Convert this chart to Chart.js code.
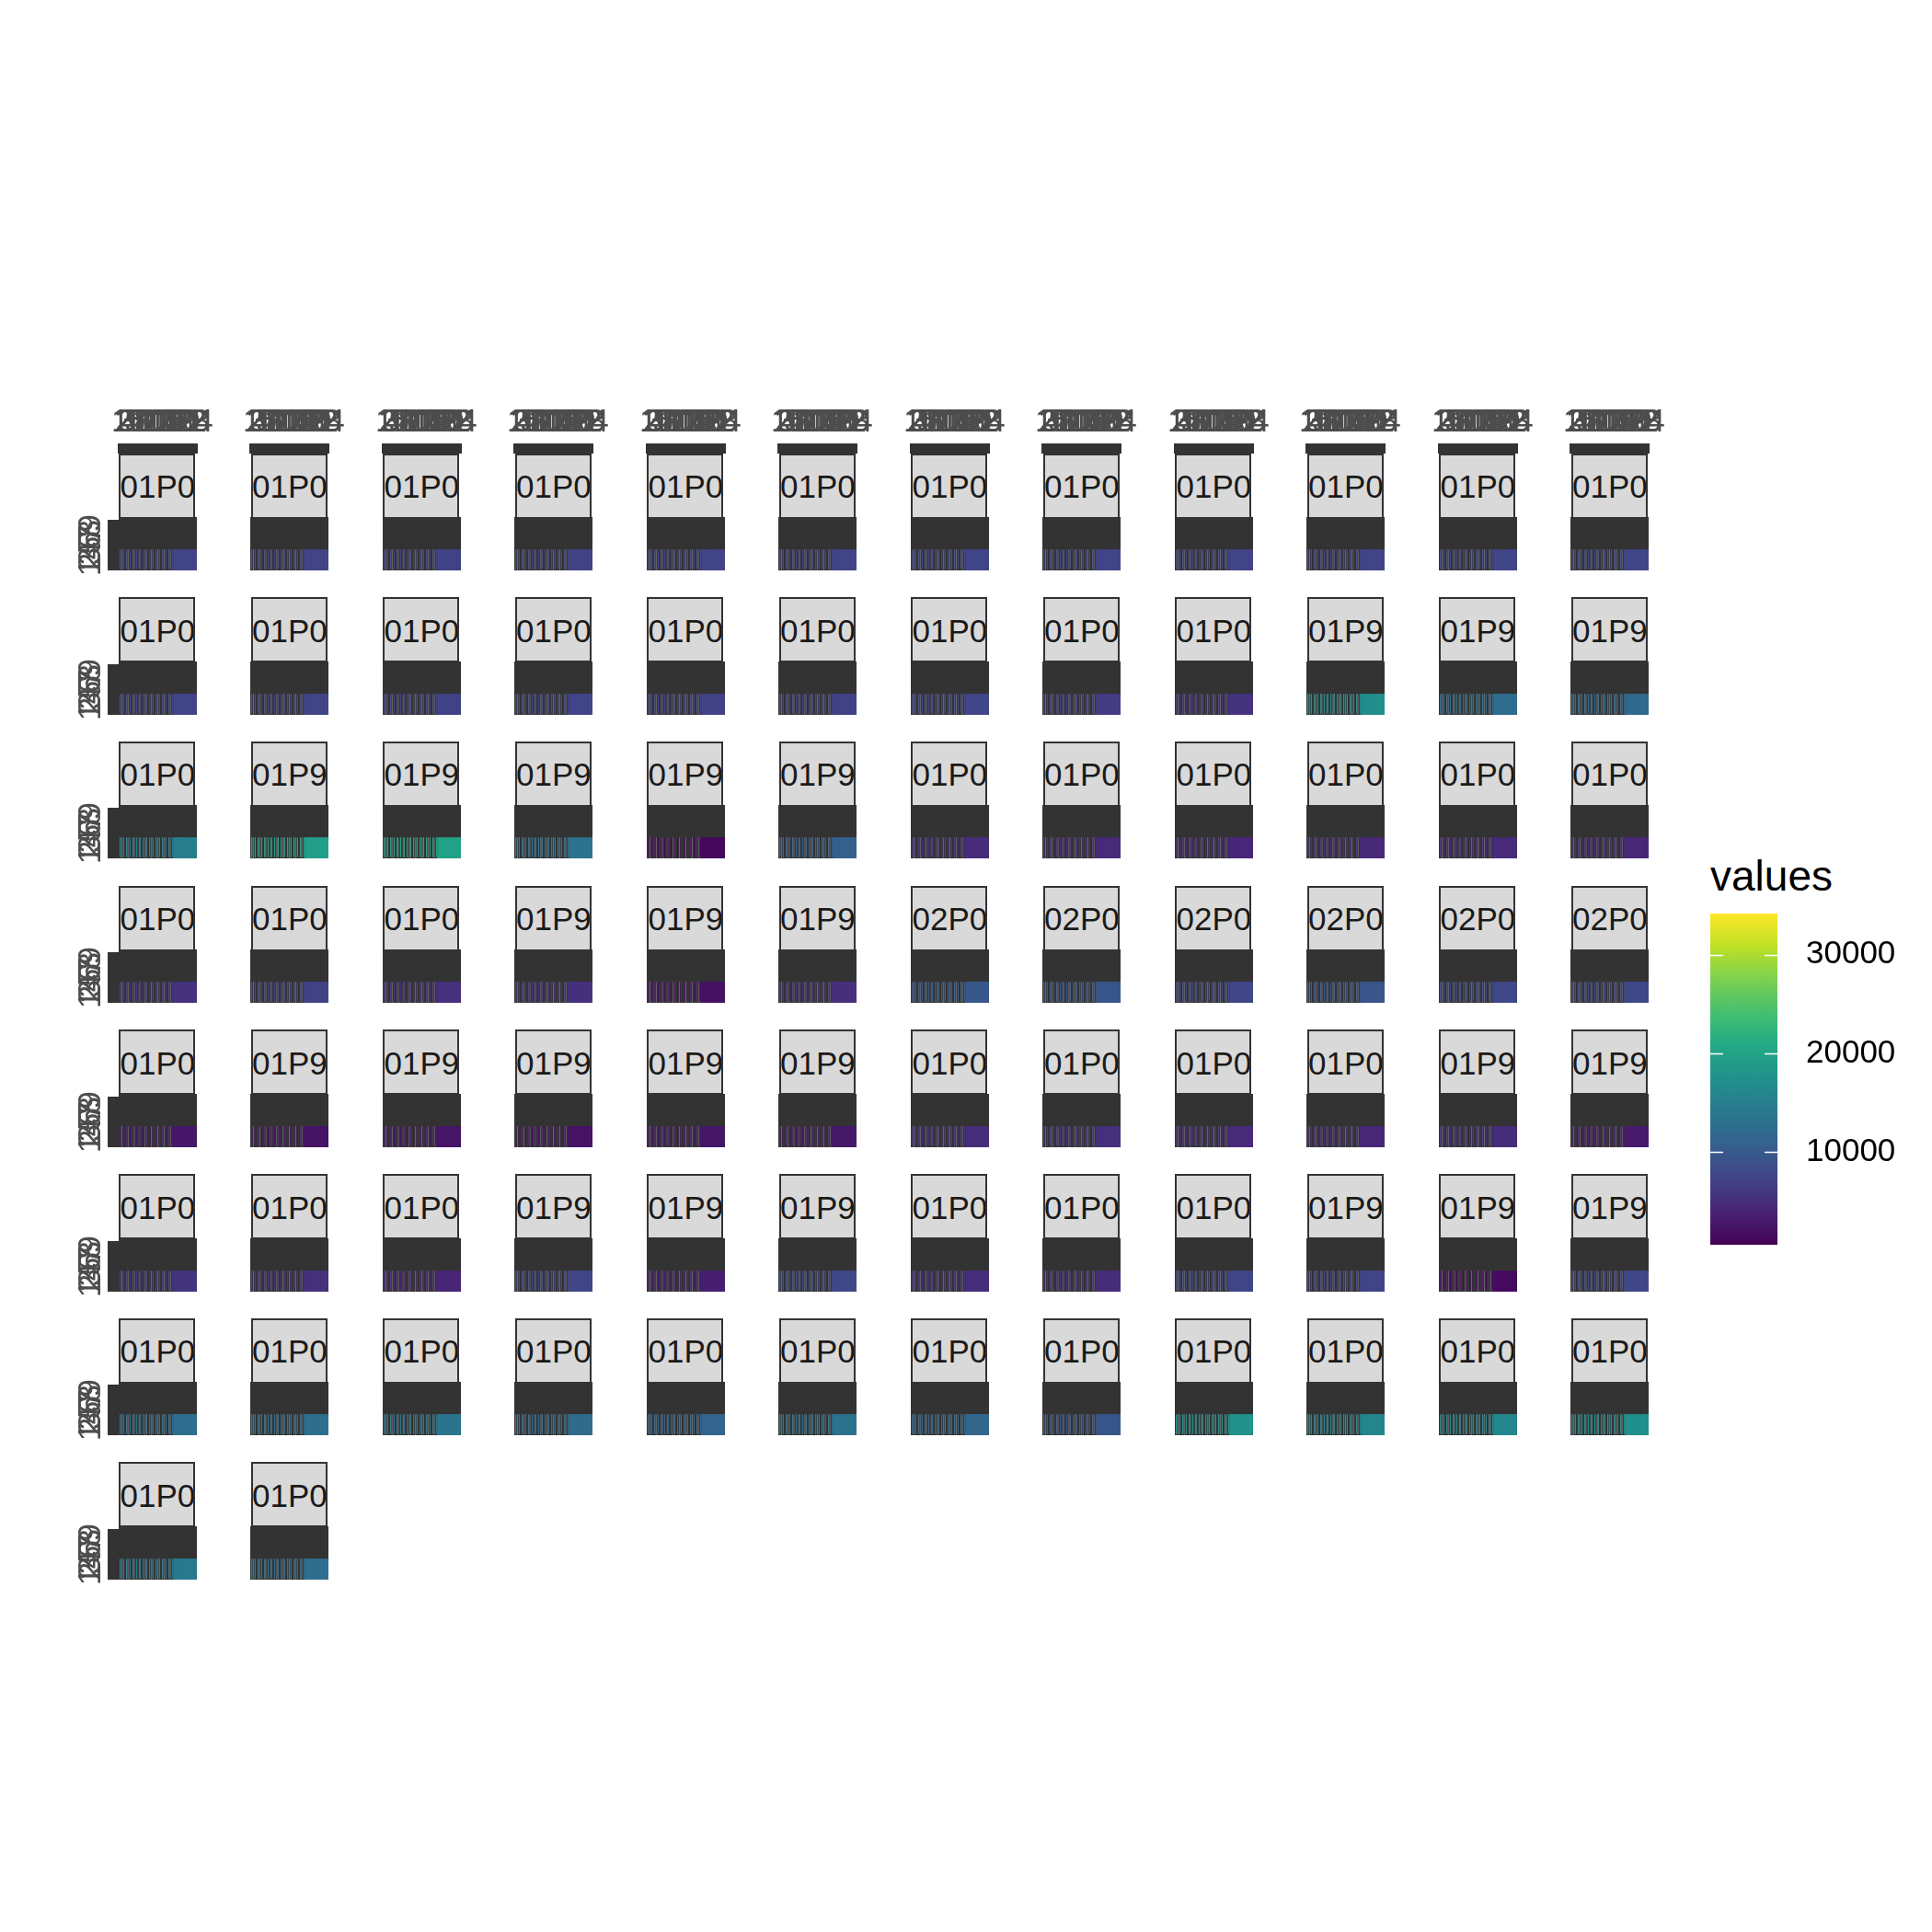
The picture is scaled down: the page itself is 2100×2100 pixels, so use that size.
<!DOCTYPE html>
<html><head><meta charset="utf-8">
<script src="https://cdn.jsdelivr.net/npm/chart.js@4.4.1/dist/chart.umd.min.js"></script>
<style>
html,body{margin:0;padding:0;background:#fff;}
#root{position:relative;width:2100px;height:2100px;overflow:hidden;background:#fff;font-family:"Liberation Sans",Arial,sans-serif;}
#root canvas{position:absolute;}
.strip{position:absolute;box-sizing:border-box;background:#d9d9d9;border:2px solid #333333;display:flex;align-items:center;justify-content:center;overflow:hidden;font-size:35px;color:#1a1a1a;white-space:nowrap;padding-top:2px;}
.ltitle{position:absolute;font-size:46px;line-height:46px;color:#000;white-space:nowrap;}
</style>
</head><body>
<div id="root"></div>
<script>
// ---------- data ----------
const facetLabels = [
 "T01P01","T01P02","T01P03","T01P04","T01P05","T01P06","T01P07","T01P08","T01P09","T01P00","T01P01","T01P02",
 "T01P03","T01P04","T01P05","T01P06","T01P07","T01P08","T01P09","T01P00","T01P01","T01P91","T01P92","T01P93",
 "T01P02","T01P94","T01P95","T01P96","T01P97","T01P98","T01P03","T01P04","T01P05","T01P06","T01P07","T01P08",
 "T01P09","T01P00","T01P01","T01P91","T01P92","T01P93","T02P01","T02P02","T02P03","T02P04","T02P05","T02P06",
 "T01P02","T01P94","T01P95","T01P96","T01P97","T01P98","T01P03","T01P04","T01P05","T01P06","T01P99","T01P90",
 "T01P07","T01P08","T01P09","T01P91","T01P92","T01P93","T01P00","T01P01","T01P02","T01P94","T01P95","T01P96",
 "T01P03","T01P04","T01P05","T01P06","T01P07","T01P08","T01P09","T01P00","T01P01","T01P02","T01P03","T01P04",
 "T01P05","T01P06"
];
const facetValues = [
 7400, 7300, 7100, 7200, 7400, 7300, 7500, 7500, 7300, 7400, 7500, 7600,
 7300, 7400, 7100, 7300, 7200, 7100, 7600, 6500, 5600, 17000, 12400, 12000,
 14800, 19500, 19800, 13200, 1400, 10800, 4800, 4600, 4300, 4500, 4700, 4400,
 5600, 7100, 5300, 5200, 2200, 5100, 9800, 9600, 7600, 9500, 7800, 8000,
 2700, 2400, 2500, 2300, 2600, 2800, 5000, 5300, 4700, 4400, 4900, 3000,
 5700, 5300, 4200, 7600, 3500, 7900, 5000, 4900, 7500, 7300, 1600, 7700,
 12600, 12800, 13500, 12300, 11400, 13300, 11600, 9600, 17500, 15800, 16000, 17300,
 14000, 12700
];
const hourLabels = ["1","2","3","4","5","6","7","8","9","10","11","12","13","14","15","16","17","18","19","20","21","22","23","24"];
const rowLabels = ["1","2","3","4","5","6","7","8","9"];
const legendTicks = [10000, 20000, 30000];
const valueRange = [630, 34160];
const legendTitle = "values";
const viridisStops = ["#440154","#482475","#414487","#355f8d","#2a788e","#21918c","#22a884","#44bf70","#7ad151","#bddf26","#fde725"];

// ---------- helpers ----------
function hexToRgb(h){return [parseInt(h.slice(1,3),16),parseInt(h.slice(3,5),16),parseInt(h.slice(5,7),16)];}
function viridis(v){
  let t=(v-valueRange[0])/(valueRange[1]-valueRange[0]);
  t=Math.max(0,Math.min(1,t));
  const n=viridisStops.length-1, p=t*n, i=Math.min(n-1,Math.floor(p)), f=p-i;
  const a=hexToRgb(viridisStops[i]), b=hexToRgb(viridisStops[i+1]);
  const c=a.map((x,k)=>Math.round(x+(b[k]-x)*f));
  return `rgb(${c[0]},${c[1]},${c[2]})`;
}

// ---------- layout ----------
const FONT = '"Liberation Sans", Arial, sans-serif';
const NCOL=12, COLX0=129.5, COLSTEP=143.5, ROWY0=493, ROWSTEP=156.7;
const STRIPW=83, STRIPH=71, BODYW=85, TOTALH=127;
const AXW=60, AXH=56, PADR=24, PADB=10;
const PXU=11.4, YMAX=TOTALH/PXU, SPLIT=2.1, BODYTOP=57/PXU, ROWA=0.3, ROWB=4.5;
const SQUARE_FROM=17;
const root=document.getElementById('root');
Chart.defaults.font.family=FONT;

facetLabels.forEach((lab,i)=>{
  const r=Math.floor(i/NCOL), c=i%NCOL;
  const sx=COLX0+c*COLSTEP, sy=ROWY0+r*ROWSTEP;
  const top=(r===0), left=(c===0);
  const col=viridis(facetValues[i]);
  const cv=document.createElement('canvas');
  const W=AXW+BODYW+PADR, H=AXH+TOTALH+PADB;
  cv.width=W; cv.height=H;
  cv.style.left=(sx-1-AXW)+'px'; cv.style.top=(sy-AXH)+'px';
  cv.style.width=W+'px'; cv.style.height=H+'px';
  root.appendChild(cv);
  new Chart(cv,{
    type:'bar',
    data:{labels:hourLabels,datasets:[
      {data:hourLabels.map(()=>[SPLIT,BODYTOP]),backgroundColor:'#333333',borderWidth:0,inflateAmount:1,grouped:false,barPercentage:1,categoryPercentage:1},
      {data:hourLabels.map(()=>[0,SPLIT]),grouped:false,barPercentage:1,categoryPercentage:1,borderSkipped:false,
       backgroundColor:col,
       borderColor:(ctx)=>ctx.dataIndex<SQUARE_FROM?'#333333':col,
       borderWidth:(ctx)=>ctx.dataIndex<SQUARE_FROM?1.35:0,
       inflateAmount:(ctx)=>ctx.dataIndex<SQUARE_FROM?0.2:1},
      {data:hourLabels.map((h,k)=>k>=SQUARE_FROM?[0,0.18]:null),backgroundColor:'#333333',borderWidth:0,inflateAmount:1,grouped:false,barPercentage:1,categoryPercentage:1}
    ]},
    options:{
      responsive:false,animation:false,events:[],devicePixelRatio:1,
      layout:{padding:{left:0,top:0,right:PADR,bottom:PADB}},
      plugins:{legend:{display:false},tooltip:{enabled:false},title:{display:false}},
      scales:{
        x:{type:'category',position:'top',offset:true,
           grid:{display:top,offset:false,drawOnChartArea:false,tickLength:11,tickWidth:5,tickColor:'#333333'},
           border:{display:false},
           ticks:{display:top,autoSkip:false,maxRotation:0,minRotation:0,padding:2,color:'#4d4d4d',font:{size:35,family:FONT}},
           afterFit:(s)=>{s.height=AXH;s.paddingLeft=0;s.paddingRight=0;}},
        y:{type:'linear',position:'left',min:0,max:YMAX,
           grid:{display:left,drawOnChartArea:false,tickLength:12,tickWidth:7,tickColor:'#333333'},
           border:{display:false},
           afterBuildTicks:(s)=>{s.ticks=rowLabels.map((l,k)=>({value:ROWA+k*(ROWB-ROWA)/(rowLabels.length-1)}));},
           ticks:{display:left,autoSkip:false,minRotation:90,maxRotation:90,crossAlign:'center',padding:8,color:'#4d4d4d',font:{size:35,family:FONT},
                  callback:(v,k)=>rowLabels[k]},
           afterFit:(s)=>{s.width=AXW;s.paddingTop=0;s.paddingBottom=0;}}
      }
    }
  });
  const st=document.createElement('div');
  st.className='strip';
  st.style.left=(sx-0.5)+'px'; st.style.top=(sy-0.5)+'px';
  st.style.width=STRIPW+'px'; st.style.height=STRIPH+'px';
  const sp=document.createElement('span'); sp.textContent=lab; st.appendChild(sp);
  root.appendChild(st);
});

// ---------- legend (colorbar) ----------
const LX=1859, LY=993, LW=73, LH=360, LAXW=150;
const lt=document.createElement('div');
lt.className='ltitle'; lt.textContent=legendTitle;
lt.style.left=LX+'px'; lt.style.top='929px';
root.appendChild(lt);
const lc=document.createElement('canvas');
lc.width=LW+LAXW; lc.height=LH;
lc.style.left=LX+'px'; lc.style.top=LY+'px';
lc.style.width=(LW+LAXW)+'px'; lc.style.height=LH+'px';
root.appendChild(lc);
new Chart(lc,{
  type:'bar',
  data:{labels:[legendTitle],datasets:[{data:[valueRange],borderWidth:0,barPercentage:1,categoryPercentage:1,
    backgroundColor:(ctx)=>{const a=ctx.chart.chartArea; if(!a) return '#21918c';
      const g=ctx.chart.ctx.createLinearGradient(0,a.bottom,0,a.top);
      viridisStops.forEach((h,k)=>g.addColorStop(k/(viridisStops.length-1),h)); return g;}}]},
  options:{
    responsive:false,animation:false,events:[],devicePixelRatio:1,
    layout:{padding:0},
    plugins:{legend:{display:false},tooltip:{enabled:false}},
    scales:{
      x:{display:false,offset:true},
      y:{position:'right',min:valueRange[0],max:valueRange[1],
         grid:{display:false},border:{display:false},
         afterBuildTicks:(s)=>{s.ticks=legendTicks.map(v=>({value:v}));},
         ticks:{padding:23,color:'#000000',font:{size:35,family:FONT},callback:(v)=>String(v)},
         afterFit:(s)=>{s.width=LAXW;s.paddingTop=0;s.paddingBottom=0;}}
    }
  },
  plugins:[{id:'cbTicks',afterDatasetsDraw(chart){
    const a=chart.chartArea, y=chart.scales.y, c=chart.ctx;
    c.save(); c.strokeStyle='#ffffff'; c.lineWidth=1.6;
    legendTicks.forEach(v=>{const py=Math.round(y.getPixelForValue(v))+0.5;
      c.beginPath(); c.moveTo(a.left,py); c.lineTo(a.left+14,py);
      c.moveTo(a.right-14,py); c.lineTo(a.right,py); c.stroke();});
    c.restore();
  }}]
});
</script>
</body></html>
